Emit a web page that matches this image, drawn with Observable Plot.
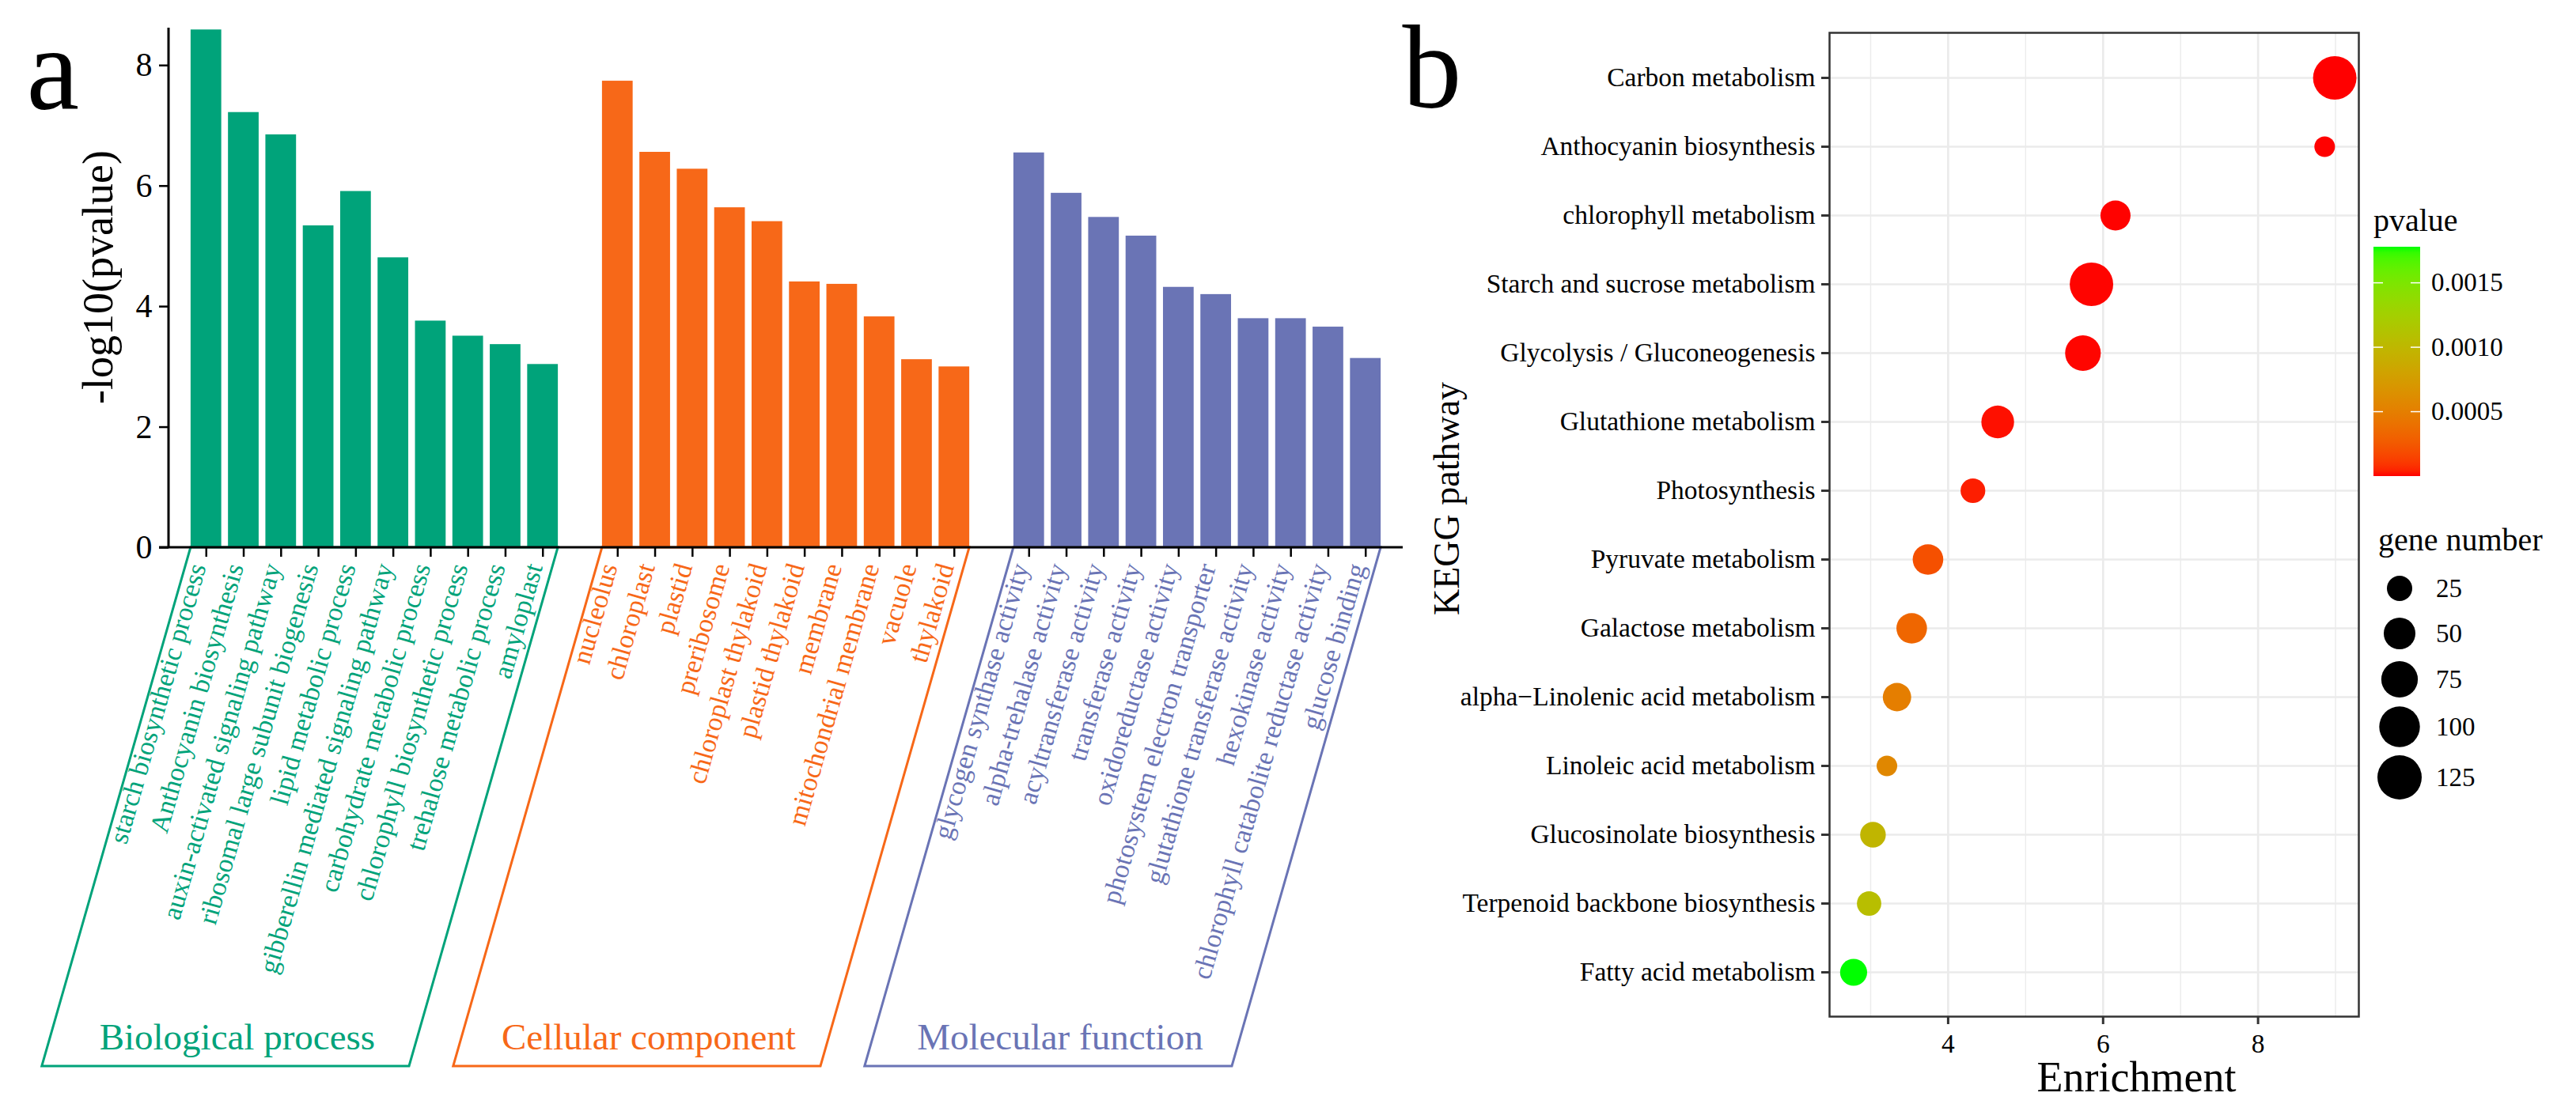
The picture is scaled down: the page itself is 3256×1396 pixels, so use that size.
<!DOCTYPE html>
<html><head><meta charset="utf-8">
<script src="https://cdn.jsdelivr.net/npm/d3@7"></script>
<script src="https://cdn.jsdelivr.net/npm/@observablehq/plot@0.6"></script>
<style>
html,body{margin:0;padding:0;background:#fff;}
#wrap{position:relative;width:3256px;height:1396px;overflow:hidden;background:#fff;}
#pa{position:absolute;left:0;top:0;width:1800px;height:1396px;}
#pb{position:absolute;left:1700px;top:0;width:1556px;height:1396px;}
svg{max-width:none !important;}
</style></head>
<body><div id="wrap"><div id="pb"></div><div id="pa"></div></div>
<script>
// ---------- Panel a data ----------
const bpTerms = ["starch biosynthetic process","Anthocyanin biosynthesis","auxin-activated signaling pathway","ribosomal large subunit biogenesis","lipid metabolic process","gibberellin mediated signaling pathway","carbohydrate metabolic process","chlorophyll biosynthetic process","trehalose metabolic process","amyloplast"];
const bpValues = [8.59, 7.22, 6.85, 5.34, 5.91, 4.81, 3.76, 3.51, 3.37, 3.04];
const ccTerms = ["nucleolus","chloroplast","plastid","preribosome","chloroplast thylakoid","plastid thylakoid","membrane","mitochondrial membrane","vacuole","thylakoid"];
const ccValues = [7.74, 6.56, 6.28, 5.64, 5.41, 4.41, 4.37, 3.83, 3.12, 3.00];
const mfTerms = ["glycogen synthase activity","alpha-trehalase activity","acyltransferase activity","transferase activity","oxidoreductase activity","photosystem electron transporter","glutathione transferase activity","hexokinase activity","chlorophyll catabolite reductase activity","glucose binding"];
const mfValues = [6.55, 5.88, 5.48, 5.17, 4.32, 4.20, 3.80, 3.80, 3.66, 3.14];
const groupNames = ["Biological process","Cellular component","Molecular function"];
const groupColors = ["#00A37A","#F76818","#6A74B5"];
const yTicksA = [0, 2, 4, 6, 8];

// ---------- Panel b data ----------
const pathways = ["Carbon metabolism","Anthocyanin biosynthesis","chlorophyll metabolism","Starch and sucrose metabolism","Glycolysis / Gluconeogenesis","Glutathione metabolism","Photosynthesis","Pyruvate metabolism","Galactose metabolism","alpha\u2212Linolenic acid metabolism","Linoleic acid metabolism","Glucosinolate biosynthesis","Terpenoid backbone biosynthesis","Fatty acid metabolism"];
const enrichment = [8.99, 8.86, 6.16, 5.85, 5.74, 4.64, 4.32, 3.74, 3.53, 3.34, 3.21, 3.03, 2.98, 2.78];
const geneNumber = [119, 12, 43, 119, 70, 55, 23, 45, 45, 36, 12, 26, 22, 31];
const pvalue = [2e-8, 5e-7, 1.5e-6, 3e-6, 4e-6, 1.4e-5, 3.4e-5, 2.05e-4, 3.3e-4, 5.0e-4, 5.7e-4, 9.8e-4, 1.07e-3, 1.78e-3];
const enrichTicks = [4, 6, 8];
const enrichMinorGrid = [3, 5, 7, 9];
const pvalueTicks = [0.0005, 0.0010, 0.0015];
const geneTicks = [25, 50, 75, 100, 125];

const FONT = "'Liberation Serif','Times New Roman',serif";

// ---------- Panel a ----------
const termGroups = [bpTerms, ccTerms, mfTerms];
const valueGroups = [bpValues, ccValues, mfValues];
const rowsA = termGroups.flatMap((terms, g) => terms.map((t, i) => ({term: t, value: valueGroups[g][i], group: groupNames[g]})));
const allTerms = rowsA.map(d => d.term);
const xDomain = [...bpTerms, "\u200b", ...ccTerms, "\u200b\u200b", ...mfTerms];

function annotA(index, scales, values, dims) {
  const {x, y} = scales;
  const bw = x.bandwidth();
  const y0 = y(0);
  const drop = 656, shift = drop / Math.tan(74 * Math.PI / 180);
  const g = d3.create("svg:g").attr("font-family", FONT);
  termGroups.forEach((terms, i) => {
    const left = x(terms[0]), right = x(terms[terms.length - 1]) + bw;
    const yb = y0 + drop;
    g.append("path")
      .attr("d", `M${left},${y0}L${left - shift},${yb}L${right - shift},${yb}L${right},${y0}Z`)
      .attr("fill", "none").attr("stroke", groupColors[i]).attr("stroke-width", 3);
    g.append("text")
      .attr("x", (left + right) / 2 - shift + 15).attr("y", yb - 21)
      .attr("text-anchor", "middle").attr("font-size", 47)
      .attr("fill", groupColors[i]).text(groupNames[i]);
  });
  g.append("line").attr("x1", dims.marginLeft).attr("x2", dims.marginLeft)
    .attr("y1", dims.marginTop).attr("y2", y0).attr("stroke", "black").attr("stroke-width", 3);
  g.append("line").attr("x1", dims.marginLeft - 12).attr("x2", dims.width - dims.marginRight)
    .attr("y1", y0).attr("y2", y0).attr("stroke", "black").attr("stroke-width", 3);
  return g.node();
}

const plotA = Plot.plot({
  width: 1800, height: 1396,
  marginLeft: 213, marginRight: 27, marginTop: 35, marginBottom: 704,
  style: {fontFamily: FONT, background: "transparent", overflow: "visible", color: "black"},
  x: {type: "band", domain: xDomain, paddingInner: 0.18, paddingOuter: 0.59, round: false},
  y: {domain: [0, 8.62]},
  color: {domain: groupNames, range: groupColors},
  marks: [
    Plot.barY(rowsA, {x: "term", y: "value", fill: "group"}),
    annotA,
    Plot.axisY(yTicksA, {tickSize: 12, tickPadding: 9, fontSize: 42, fontFamily: FONT, strokeWidth: 2.5, tickFormat: "d", label: null}),
    Plot.axisX(allTerms, {tickSize: 12, tickFormat: () => "", strokeWidth: 2.5, label: null}),
    Plot.text(rowsA, {x: "term", text: "term", fill: "group", rotate: -74, textAnchor: "end", lineAnchor: "bottom", frameAnchor: "bottom", dy: 24, fontSize: 34, fontFamily: FONT}),
    Plot.text(["-log10(pvalue)"], {frameAnchor: "left", textAnchor: "middle", lineAnchor: "middle", rotate: -90, dx: -89, dy: -13.5, fontSize: 54, fontFamily: FONT}),
    Plot.text(["a"], {frameAnchor: "top-left", textAnchor: "start", lineAnchor: "bottom", dx: -180, dy: 102, fontSize: 150, fontFamily: FONT})
  ]
});
document.getElementById("pa").appendChild(plotA);

// ---------- Panel b ----------
const rowsB = pathways.map((p, i) => ({pathway: p, enrichment: enrichment[i], genes: geneNumber[i], pvalue: pvalue[i]}));
const [eMin, eMax] = d3.extent(enrichment);
const ePad = 0.05 * (eMax - eMin);
const pExtent = d3.extent(pvalue);

function legendB(index, scales, values, dims) {
  const color = scales.color, r = scales.r;
  const g = d3.create("svg:g").attr("font-family", FONT).attr("fill", "black").attr("text-anchor", "start");
  const bx = 1300, bw = 59, by0 = 602, by1 = 312;
  const py = d3.scaleLinear().domain(pExtent).range([by0, by1]);
  const grad = g.append("defs").append("linearGradient").attr("id", "pgrad")
    .attr("x1", 0).attr("y1", 1).attr("x2", 0).attr("y2", 0);
  d3.range(41).forEach(i => {
    const t = i / 40;
    grad.append("stop").attr("offset", t).attr("stop-color", color(pExtent[0] + t * (pExtent[1] - pExtent[0])));
  });
  g.append("text").attr("x", bx).attr("y", 292).attr("font-size", 40).text("pvalue");
  g.append("rect").attr("x", bx).attr("y", by1).attr("width", bw).attr("height", by0 - by1).attr("fill", "url(#pgrad)");
  pvalueTicks.forEach(p => {
    const yy = py(p);
    g.append("line").attr("x1", bx).attr("x2", bx + 12).attr("y1", yy).attr("y2", yy).attr("stroke", "white").attr("stroke-width", 1.5);
    g.append("line").attr("x1", bx + bw - 12).attr("x2", bx + bw).attr("y1", yy).attr("y2", yy).attr("stroke", "white").attr("stroke-width", 1.5);
    g.append("text").attr("x", bx + 73).attr("y", yy).attr("dy", "0.32em").attr("font-size", 33).text(d3.format(".4f")(p));
  });
  g.append("text").attr("x", 1306).attr("y", 696).attr("font-size", 40).text("gene number");
  const keyY = [744, 801, 859, 919, 983];
  geneTicks.forEach((v, i) => {
    g.append("circle").attr("cx", 1333).attr("cy", keyY[i]).attr("r", r(v)).attr("fill", "black");
    g.append("text").attr("x", 1379).attr("y", keyY[i]).attr("dy", "0.32em").attr("font-size", 33).text(v);
  });
  return g.node();
}

const plotB = Plot.plot({
  width: 1556, height: 1396,
  marginLeft: 612, marginRight: 275, marginTop: 41, marginBottom: 111,
  style: {fontFamily: FONT, background: "transparent", overflow: "visible", color: "black"},
  x: {domain: [eMin - ePad, eMax + ePad]},
  y: {type: "point", domain: pathways, padding: 0.6},
  r: {type: "sqrt", domain: [0, 125], range: [6.3, 28]},
  color: {type: "linear", domain: pExtent, range: ["#FF0000", "#00FF00"], interpolate: d3.interpolateLab},
  marks: [
    Plot.ruleX(enrichMinorGrid, {stroke: "#EBEBEB", strokeWidth: 1.4}),
    Plot.ruleX(enrichTicks, {stroke: "#EBEBEB", strokeWidth: 2.7}),
    Plot.ruleY(pathways, {stroke: "#EBEBEB", strokeWidth: 2.7}),
    Plot.dot(rowsB, {x: "enrichment", y: "pathway", r: "genes", fill: "pvalue"}),
    Plot.frame({stroke: "#333333", strokeWidth: 2.5}),
    Plot.axisY({tickSize: 10, tickPadding: 8, fontSize: 33.5, fontFamily: FONT, stroke: "#333333", strokeWidth: 3, label: null}),
    Plot.axisX(enrichTicks, {tickSize: 10, tickPadding: 12, fontSize: 33.5, fontFamily: FONT, stroke: "#333333", strokeWidth: 3, label: null}),
    Plot.text(["Enrichment"], {frameAnchor: "bottom", textAnchor: "middle", lineAnchor: "middle", dx: 53.5, dy: 77.5, fontSize: 54, fontFamily: FONT}),
    Plot.text(["KEGG pathway"], {frameAnchor: "left", textAnchor: "middle", lineAnchor: "middle", rotate: -90, dx: -483, dy: -33, fontSize: 46, fontFamily: FONT}),
    Plot.text(["b"], {frameAnchor: "top-left", textAnchor: "start", lineAnchor: "bottom", dx: -540, dy: 94, fontSize: 150, fontFamily: FONT}),
    legendB
  ]
});
document.getElementById("pb").appendChild(plotB);
</script></body></html>
